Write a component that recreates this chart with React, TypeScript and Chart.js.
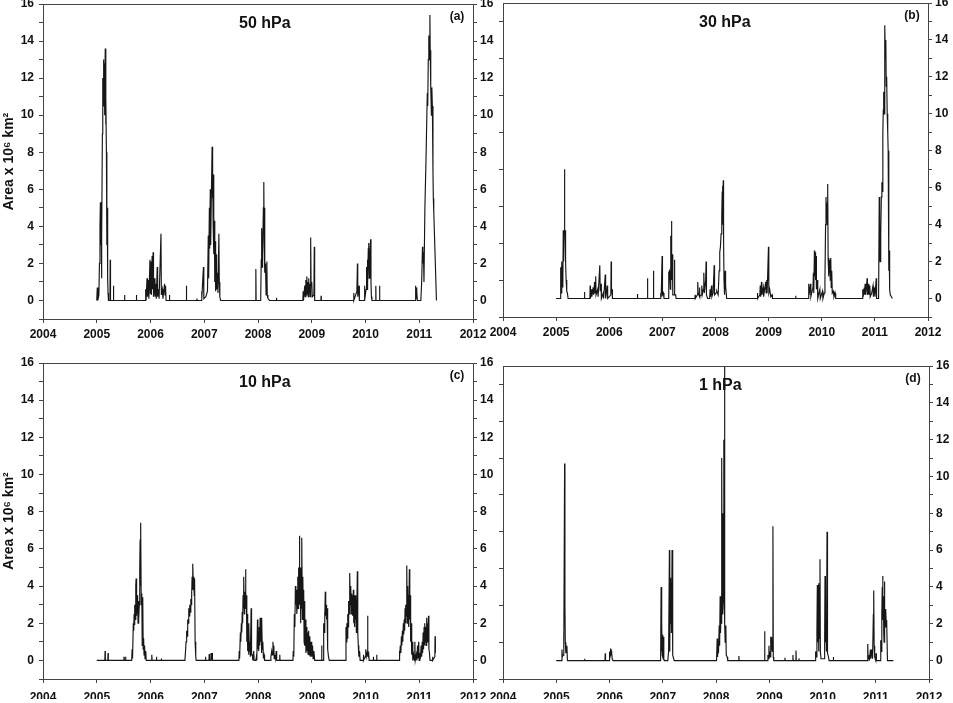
import React, { useEffect, useRef } from 'react';
import { Chart, registerables } from 'chart.js';

Chart.register(...registerables);

const W = 953;
const H = 703;
const FONT = '"Liberation Sans", Arial, Helvetica, sans-serif';

// ---- tick labels / texts ----
const yearLabels = [2004, 2005, 2006, 2007, 2008, 2009, 2010, 2011, 2012];
const areaLabels = [0, 2, 4, 6, 8, 10, 12, 14, 16];
const panelTitles = ['50 hPa', '30 hPa', '10 hPa', '1 hPa'];
const panelLetters = ['(a)', '(b)', '(c)', '(d)'];
const yAxisTitle = 'Area x 10\u2076 km\u00B2';

// ---- series: [decimal year, area (10^6 km^2)] ----
const area50hPa: [number, number][] = [
  [2005.000, 0], [2005.010, 0.7], [2005.020, 0], [2005.040, 0.3], [2005.050, 2.0], [2005.060, 4.0], [2005.068, 5.3], [2005.075, 3.0], [2005.080, 5.0], [2005.088, 1.2], [2005.095, 3.5], [2005.105, 9.0], [2005.112, 12.0], [2005.118, 10.5], [2005.125, 13.0], [2005.132, 11.0], [2005.140, 12.8], [2005.148, 10.0], [2005.158, 13.6], [2005.165, 9.5], [2005.172, 11.0], [2005.180, 8.0], [2005.188, 3.0], [2005.195, 5.0], [2005.203, 1.2], [2005.210, 0.4], [2005.218, 0],
  [2005.245, 0], [2005.250, 2.2], [2005.256, 0], [2005.305, 0], [2005.310, 0.8], [2005.316, 0], [2005.515, 0], [2005.518, 0.3], [2005.522, 0], [2005.735, 0], [2005.738, 0.3], [2005.742, 0],
  [2005.905, 0], [2005.910, 0.6], [2005.918, 0], [2005.935, 1.2], [2005.945, 0.2], [2005.962, 1.1], [2005.970, 0.1], [2005.990, 2.2], [2005.998, 0.4], [2006.008, 2.1], [2006.016, 0.3], [2006.030, 2.4], [2006.038, 0.6], [2006.048, 2.6], [2006.056, 0.2], [2006.075, 1.2], [2006.083, 0.2], [2006.100, 0.9], [2006.108, 0.1], [2006.125, 1.8], [2006.133, 0.2], [2006.150, 0.6], [2006.160, 0.1], [2006.195, 3.6], [2006.202, 0.3], [2006.220, 0.6], [2006.232, 0.1], [2006.262, 0.9], [2006.270, 0.3], [2006.280, 0.8], [2006.290, 0],
  [2006.350, 0], [2006.353, 0.3], [2006.357, 0], [2006.665, 0], [2006.668, 0.8], [2006.672, 0], [2006.860, 0], [2006.863, 0.1], [2006.866, 0],
  [2006.940, 0], [2006.950, 0.5], [2006.958, 0.1], [2006.985, 1.8], [2006.992, 0.1], [2007.030, 0.2], [2007.060, 0.5], [2007.075, 3.5], [2007.082, 1.2], [2007.095, 5.0], [2007.102, 2.8], [2007.112, 6.0], [2007.120, 3.0], [2007.130, 5.2], [2007.146, 8.3], [2007.152, 5.5], [2007.160, 7.0], [2007.166, 4.0], [2007.174, 6.8], [2007.180, 2.5], [2007.188, 4.3], [2007.196, 1.0], [2007.204, 3.2], [2007.212, 0.5], [2007.222, 2.5], [2007.230, 0.6], [2007.245, 1.5], [2007.255, 0.4], [2007.272, 3.6], [2007.280, 1.0], [2007.290, 0.2], [2007.305, 0],
  [2007.955, 0], [2007.960, 1.7], [2007.965, 0], [2008.050, 0], [2008.060, 2.2], [2008.068, 3.9], [2008.075, 1.8], [2008.085, 2.5], [2008.100, 5.0], [2008.108, 6.4], [2008.115, 3.0], [2008.122, 5.0], [2008.130, 1.5], [2008.140, 2.0], [2008.150, 0.3], [2008.165, 2.1], [2008.172, 0.3], [2008.185, 0.1], [2008.215, 0], [2008.340, 0], [2008.344, 0.15], [2008.348, 0],
  [2008.835, 0], [2008.840, 0.5], [2008.846, 0], [2008.870, 0.8], [2008.878, 0.2], [2008.890, 1.1], [2008.898, 0.3], [2008.908, 1.3], [2008.916, 0.4], [2008.926, 1.0], [2008.934, 0.2], [2008.944, 1.2], [2008.952, 0.4], [2008.962, 0.9], [2008.970, 0.2], [2008.980, 3.4], [2008.988, 0.8], [2009.000, 1.0], [2009.010, 0.2], [2009.040, 0.3], [2009.047, 2.9], [2009.054, 0], [2009.170, 0], [2009.174, 0.25], [2009.178, 0],
  [2009.775, 0], [2009.780, 0.4], [2009.785, 0], [2009.840, 0.5], [2009.850, 2.0], [2009.856, 0.2], [2009.880, 0.8], [2009.886, 0], [2009.978, 0], [2009.982, 0.8], [2009.986, 0], [2010.010, 0.6], [2010.020, 1.8], [2010.028, 0.6], [2010.035, 2.2], [2010.043, 0.9], [2010.052, 2.8], [2010.060, 3.1], [2010.068, 1.2], [2010.080, 2.5], [2010.095, 3.3], [2010.102, 1.0], [2010.110, 0.2], [2010.120, 0], [2010.188, 0], [2010.192, 0.8], [2010.196, 0], [2010.258, 0], [2010.262, 0.8], [2010.266, 0],
  [2010.925, 0], [2010.930, 0.8], [2010.936, 0.2], [2010.942, 0.7], [2010.950, 0.1], [2010.958, 0.5], [2010.965, 0], [2011.030, 0], [2011.045, 1.0], [2011.060, 2.9], [2011.068, 2.0], [2011.078, 2.6], [2011.088, 1.0], [2011.105, 5.0], [2011.125, 7.5], [2011.138, 9.5], [2011.150, 11.2], [2011.158, 10.5], [2011.168, 13.0], [2011.178, 14.3], [2011.186, 13.0], [2011.198, 15.4], [2011.204, 13.5], [2011.210, 12.0], [2011.218, 11.5], [2011.226, 10.0], [2011.234, 11.5], [2011.244, 10.5], [2011.255, 7.0], [2011.262, 5.5], [2011.270, 4.8], [2011.320, 0],
];

const area30hPa: [number, number][] = [
  [2005.000, 0], [2005.080, 0], [2005.086, 1.7], [2005.094, 0.3], [2005.102, 2.0], [2005.110, 0.5], [2005.118, 1.8], [2005.126, 0.6], [2005.134, 3.7], [2005.142, 2.0], [2005.150, 3.7], [2005.157, 7.0], [2005.163, 3.5], [2005.170, 3.7], [2005.178, 2.0], [2005.188, 1.0], [2005.200, 0.4], [2005.212, 0.3], [2005.225, 0],
  [2005.528, 0], [2005.533, 0.35], [2005.540, 0],
  [2005.635, 0], [2005.640, 0.7], [2005.646, 0], [2005.665, 0.5], [2005.672, 0.1], [2005.698, 0.6], [2005.705, 0.2], [2005.725, 0.9], [2005.732, 0.3], [2005.745, 1.2], [2005.752, 0.2], [2005.782, 0.5], [2005.790, 0.1], [2005.822, 1.8], [2005.830, 0.4], [2005.845, 0.8], [2005.852, 0], [2005.888, 0.3], [2005.894, 0], [2005.925, 1.3], [2005.932, 0], [2005.962, 0.7], [2005.970, 0], [2006.030, 0.2], [2006.035, 2.0], [2006.042, 0.3], [2006.052, 0.5], [2006.060, 0],
  [2006.527, 0], [2006.531, 0.25], [2006.535, 0],
  [2006.712, 0], [2006.719, 1.1], [2006.726, 0], [2006.826, 0], [2006.832, 1.5], [2006.838, 0], [2006.965, 0], [2006.970, 0.3], [2006.978, 0.1], [2006.995, 2.3], [2007.002, 0.2], [2007.020, 0.3], [2007.030, 0],
  [2007.110, 0], [2007.120, 1.4], [2007.135, 1.5], [2007.150, 0.5], [2007.158, 3.4], [2007.165, 2.0], [2007.171, 4.2], [2007.178, 1.0], [2007.188, 2.4], [2007.196, 0.2], [2007.220, 0.2], [2007.227, 2.1], [2007.234, 0.2], [2007.250, 0.2], [2007.258, 0],
  [2007.612, 0], [2007.616, 0.2], [2007.620, 0], [2007.660, 0.2], [2007.666, 0.9], [2007.674, 0.3], [2007.690, 0.2], [2007.698, 0.6], [2007.705, 0.1], [2007.735, 0.2], [2007.742, 0.7], [2007.750, 0.2], [2007.772, 0.5], [2007.780, 1.4], [2007.790, 0.3], [2007.815, 1.0], [2007.823, 2.0], [2007.830, 0.2], [2007.850, 0], [2007.890, 0], [2007.898, 0.5], [2007.906, 0.1], [2007.925, 0.7], [2007.932, 0.1], [2007.955, 0.3], [2007.975, 1.8], [2007.982, 0.2], [2008.010, 0.3], [2008.024, 0.4],
  [2008.050, 0.2], [2008.068, 1.5], [2008.080, 2.5], [2008.093, 2.8], [2008.105, 3.5], [2008.118, 4.5], [2008.126, 5.8], [2008.132, 6.1], [2008.138, 4.0], [2008.146, 6.4], [2008.152, 3.2], [2008.160, 1.0], [2008.170, 0.2], [2008.182, 1.5], [2008.190, 0.7], [2008.210, 0],
  [2008.785, 0], [2008.789, 0.3], [2008.795, 0], [2008.835, 0.2], [2008.842, 0.7], [2008.850, 0.1], [2008.866, 0.9], [2008.873, 0.2], [2008.900, 0.6], [2008.906, 0.1], [2008.945, 0.9], [2008.952, 0.3], [2008.965, 1.0], [2008.972, 0.3], [2008.997, 2.8], [2009.004, 0.3], [2009.020, 0.5], [2009.040, 0.1], [2009.065, 0.2], [2009.072, 0],
  [2009.505, 0], [2009.510, 0.15], [2009.515, 0],
  [2009.750, 0], [2009.755, 0.8], [2009.762, 0.2], [2009.788, 0.8], [2009.795, 0.1], [2009.835, 0.6], [2009.843, 1.4], [2009.850, 0.3], [2009.862, 2.6], [2009.868, 1.2], [2009.876, 2.5], [2009.884, 1.0], [2009.893, 2.3], [2009.900, 0.5], [2009.918, 1.0], [2009.925, 0], [2009.965, 0.5], [2009.972, 0], [2010.015, 0.4], [2010.022, 0], [2010.048, 0.3], [2010.060, 1.0], [2010.072, 4.0], [2010.080, 5.5], [2010.088, 4.3], [2010.096, 5.2], [2010.104, 4.0], [2010.112, 6.2], [2010.120, 2.2], [2010.128, 1.2], [2010.136, 2.2], [2010.144, 1.4], [2010.152, 2.1], [2010.160, 1.0], [2010.170, 2.2], [2010.178, 0.6], [2010.188, 1.5], [2010.198, 0.3], [2010.215, 0.4], [2010.230, 0.1], [2010.250, 0.3], [2010.262, 0],
  [2010.765, 0], [2010.772, 0.5], [2010.780, 0.1], [2010.800, 0.6], [2010.808, 0.2], [2010.816, 0.8], [2010.824, 0.2], [2010.845, 0.7], [2010.853, 1.1], [2010.860, 0.2], [2010.878, 0.8], [2010.885, 0.2], [2010.905, 0.7], [2010.912, 0.1], [2010.940, 0.3], [2010.965, 0.7], [2010.972, 0.1], [2010.995, 0.6], [2011.002, 0.1], [2011.025, 1.1], [2011.032, 0], [2011.070, 0], [2011.082, 5.5], [2011.090, 3.0], [2011.098, 2.0], [2011.110, 3.5], [2011.122, 5.5], [2011.132, 6.3], [2011.140, 5.8], [2011.150, 9.0], [2011.158, 10.2], [2011.166, 11.2], [2011.174, 10.0], [2011.182, 13.0], [2011.190, 14.8], [2011.198, 13.0], [2011.206, 14.0], [2011.214, 11.5], [2011.222, 12.0], [2011.232, 10.0], [2011.242, 9.0], [2011.250, 8.0], [2011.262, 1.5], [2011.270, 2.6], [2011.278, 0.5], [2011.290, 0.2], [2011.330, 0],
];

const area10hPa: [number, number][] = [
  [2005.000, 0], [2005.150, 0], [2005.155, 0.5], [2005.160, 0], [2005.205, 0], [2005.210, 0.4], [2005.215, 0], [2005.505, 0], [2005.508, 0.2], [2005.512, 0], [2005.535, 0], [2005.538, 0.2], [2005.542, 0],
  [2005.650, 0], [2005.658, 0.6], [2005.666, 0.1], [2005.680, 2.0], [2005.688, 1.6], [2005.695, 2.5], [2005.702, 1.9], [2005.710, 3.0], [2005.718, 2.2], [2005.726, 4.0], [2005.732, 4.4], [2005.738, 2.4], [2005.745, 3.2], [2005.752, 2.6], [2005.760, 3.5], [2005.768, 2.0], [2005.776, 3.2], [2005.784, 2.2], [2005.792, 3.0], [2005.800, 5.0], [2005.807, 6.5], [2005.814, 4.0], [2005.820, 7.4], [2005.828, 3.0], [2005.838, 3.6], [2005.846, 0.8], [2005.856, 3.4], [2005.864, 0.6], [2005.872, 1.2], [2005.880, 0.3], [2005.890, 0.8], [2005.898, 0.1], [2005.912, 0.5], [2005.920, 0], [2006.020, 0], [2006.024, 0.3], [2006.030, 0], [2006.108, 0], [2006.112, 0.2], [2006.116, 0], [2006.198, 0], [2006.202, 0.1], [2006.206, 0],
  [2006.640, 0], [2006.652, 0.5], [2006.662, 1.0], [2006.672, 1.6], [2006.682, 1.3], [2006.692, 2.2], [2006.702, 2.0], [2006.712, 2.8], [2006.720, 2.4], [2006.730, 3.0], [2006.740, 2.6], [2006.750, 3.3], [2006.758, 3.0], [2006.766, 3.6], [2006.774, 4.5], [2006.782, 3.8], [2006.790, 5.2], [2006.798, 3.8], [2006.806, 4.5], [2006.814, 3.5], [2006.820, 4.4], [2006.830, 1.0], [2006.842, 0.2], [2006.850, 0],
  [2007.020, 0], [2007.024, 0.2], [2007.028, 0], [2007.088, 0], [2007.092, 0.35], [2007.096, 0], [2007.122, 0], [2007.126, 0.4], [2007.130, 0], [2007.144, 0], [2007.148, 0.4], [2007.152, 0],
  [2007.645, 0], [2007.650, 0.5], [2007.658, 0.1], [2007.672, 1.5], [2007.680, 1.0], [2007.690, 2.0], [2007.698, 1.5], [2007.706, 2.6], [2007.714, 2.0], [2007.722, 3.5], [2007.730, 2.8], [2007.738, 4.5], [2007.745, 2.5], [2007.752, 3.7], [2007.760, 2.8], [2007.768, 4.9], [2007.776, 3.0], [2007.784, 3.5], [2007.792, 1.0], [2007.800, 2.5], [2007.808, 0.5], [2007.816, 1.5], [2007.824, 0.3], [2007.832, 2.0], [2007.840, 0.5], [2007.850, 1.0], [2007.858, 0.2], [2007.872, 2.8], [2007.880, 0.3], [2007.895, 0.3], [2007.905, 0], [2007.920, 0.5], [2007.928, 0], [2007.960, 0], [2007.970, 0.2], [2007.978, 0], [2007.990, 2.2], [2007.998, 0.6], [2008.006, 1.5], [2008.014, 0.5], [2008.022, 1.8], [2008.030, 0.8], [2008.040, 2.3], [2008.048, 1.0], [2008.056, 1.6], [2008.064, 0.4], [2008.072, 2.3], [2008.080, 0.6], [2008.090, 1.0], [2008.100, 0.2], [2008.112, 0.3], [2008.122, 0],
  [2008.230, 0], [2008.240, 0.2], [2008.255, 0.5], [2008.265, 0.3], [2008.278, 1.0], [2008.286, 0.4], [2008.294, 0.8], [2008.302, 0.1], [2008.315, 0.3], [2008.325, 0.1], [2008.340, 0.5], [2008.348, 0], [2008.400, 0], [2008.405, 0.3], [2008.410, 0],
  [2008.650, 0], [2008.656, 0.5], [2008.666, 0.2], [2008.676, 2.5], [2008.686, 1.8], [2008.696, 4.0], [2008.705, 3.0], [2008.714, 3.8], [2008.722, 2.5], [2008.730, 3.0], [2008.740, 4.5], [2008.748, 2.8], [2008.756, 5.0], [2008.764, 3.5], [2008.770, 6.7], [2008.778, 3.0], [2008.786, 5.0], [2008.794, 2.0], [2008.802, 4.5], [2008.810, 2.8], [2008.818, 6.6], [2008.826, 2.2], [2008.834, 4.5], [2008.842, 2.5], [2008.850, 3.8], [2008.858, 1.0], [2008.866, 3.2], [2008.874, 0.8], [2008.884, 2.2], [2008.892, 0.4], [2008.902, 1.8], [2008.910, 0.5], [2008.920, 1.5], [2008.930, 0.3], [2008.942, 1.6], [2008.952, 0.3], [2008.964, 1.3], [2008.975, 0.2], [2008.990, 1.0], [2009.000, 0.2], [2009.015, 0.8], [2009.025, 0.1], [2009.040, 0.5], [2009.055, 0],
  [2009.180, 0], [2009.184, 0.8], [2009.190, 0], [2009.215, 0], [2009.222, 2.0], [2009.230, 1.5], [2009.238, 2.6], [2009.246, 2.2], [2009.252, 3.7], [2009.260, 2.4], [2009.268, 3.0], [2009.276, 2.2], [2009.284, 2.8], [2009.292, 1.8], [2009.300, 0.6], [2009.312, 0.2], [2009.325, 0],
  [2009.630, 0], [2009.637, 1.8], [2009.645, 1.0], [2009.653, 2.0], [2009.661, 1.2], [2009.670, 2.5], [2009.678, 1.8], [2009.686, 3.2], [2009.694, 2.5], [2009.702, 4.2], [2009.710, 4.7], [2009.718, 3.0], [2009.726, 4.0], [2009.734, 2.5], [2009.742, 3.6], [2009.750, 2.8], [2009.758, 3.5], [2009.766, 2.4], [2009.774, 3.8], [2009.782, 2.0], [2009.790, 3.5], [2009.798, 1.8], [2009.806, 3.0], [2009.814, 2.2], [2009.822, 3.5], [2009.830, 1.5], [2009.838, 2.5], [2009.848, 4.8], [2009.856, 1.5], [2009.866, 0.8], [2009.876, 0.2], [2009.890, 0.5], [2009.900, 0], [2009.955, 0], [2009.960, 0.3], [2009.966, 0], [2009.995, 0.2], [2010.005, 0.6], [2010.015, 0.2], [2010.030, 0.4], [2010.038, 2.4], [2010.046, 0.3], [2010.058, 0.4], [2010.068, 0], [2010.142, 0], [2010.146, 0.2], [2010.150, 0], [2010.204, 0], [2010.208, 0.3], [2010.212, 0],
  [2010.625, 0], [2010.630, 0.5], [2010.638, 0.2], [2010.648, 0.8], [2010.658, 0.4], [2010.668, 1.3], [2010.676, 0.8], [2010.686, 1.6], [2010.694, 1.0], [2010.704, 2.0], [2010.712, 1.4], [2010.720, 2.2], [2010.728, 1.6], [2010.736, 2.8], [2010.744, 2.0], [2010.752, 3.0], [2010.760, 2.4], [2010.768, 5.1], [2010.776, 2.0], [2010.784, 4.0], [2010.792, 2.6], [2010.800, 3.5], [2010.808, 1.8], [2010.816, 4.9], [2010.824, 2.2], [2010.832, 3.5], [2010.840, 1.0], [2010.850, 2.0], [2010.860, 0.3], [2010.870, 1.0], [2010.880, 0], [2010.895, 0.3], [2010.910, 0], [2010.918, 1.0], [2010.926, 0], [2010.945, 0.3], [2010.955, 0], [2010.968, 0.8], [2010.976, 0.1], [2010.990, 1.0], [2010.998, 0], [2011.012, 0.4], [2011.022, 0.1], [2011.035, 0.8], [2011.045, 0.2], [2011.055, 1.0], [2011.063, 0.4], [2011.072, 1.5], [2011.080, 0.6], [2011.090, 1.8], [2011.098, 0.8], [2011.106, 2.0], [2011.114, 1.0], [2011.122, 1.8], [2011.130, 0.8], [2011.138, 2.3], [2011.146, 1.0], [2011.154, 2.0], [2011.162, 1.2], [2011.172, 2.4], [2011.180, 0.6], [2011.190, 0.4], [2011.200, 0], [2011.240, 0], [2011.245, 0.2], [2011.255, 0], [2011.290, 0.2], [2011.294, 1.3], [2011.300, 0.4],
];

const area1hPa: [number, number][] = [
  [2005.000, 0], [2005.100, 0], [2005.107, 0.6], [2005.114, 0.2], [2005.130, 0.3], [2005.138, 1.5], [2005.145, 0.5], [2005.157, 10.7], [2005.163, 3.0], [2005.170, 1.0], [2005.180, 0.4], [2005.200, 0.8], [2005.210, 0],
  [2005.530, 0], [2005.533, 0.1], [2005.537, 0],
  [2005.915, 0], [2005.920, 0.4], [2005.925, 0], [2005.995, 0], [2006.002, 0.5], [2006.010, 0.3], [2006.016, 0.65], [2006.024, 0.3], [2006.040, 0.5], [2006.050, 0.1], [2006.066, 0],
  [2006.960, 0], [2006.969, 4.0], [2006.976, 0.5], [2006.984, 2.0], [2006.990, 0.3], [2006.996, 1.4], [2007.004, 0.2], [2007.012, 1.3], [2007.020, 0.1], [2007.030, 0], [2007.095, 0], [2007.110, 0.5], [2007.125, 6.0], [2007.132, 0.5], [2007.140, 4.5], [2007.148, 2.0], [2007.156, 4.2], [2007.164, 1.5], [2007.175, 6.0], [2007.182, 2.0], [2007.192, 0.3], [2007.215, 0],
  [2008.010, 0], [2008.022, 1.2], [2008.030, 0.2], [2008.040, 0.8], [2008.047, 0.4], [2008.060, 1.9], [2008.068, 0.8], [2008.078, 3.5], [2008.085, 1.5], [2008.097, 3.5], [2008.104, 2.0], [2008.110, 11.0], [2008.116, 3.0], [2008.122, 8.0], [2008.130, 2.5], [2008.138, 3.5], [2008.147, 12.0], [2008.152, 4.0], [2008.160, 17.5], [2008.166, 2.0], [2008.172, 1.0], [2008.185, 1.9], [2008.192, 0.3], [2008.210, 0.2], [2008.220, 0],
  [2008.425, 0], [2008.430, 0.25], [2008.435, 0],
  [2008.905, 0], [2008.912, 1.6], [2008.920, 0], [2008.960, 0], [2008.975, 0.3], [2008.985, 0.1], [2008.994, 0.8], [2009.002, 0.2], [2009.013, 0.5], [2009.020, 0.2], [2009.028, 1.3], [2009.036, 0.6], [2009.044, 1.3], [2009.056, 0.5], [2009.069, 7.3], [2009.076, 0.2], [2009.085, 0],
  [2009.290, 0], [2009.295, 0.15], [2009.300, 0], [2009.440, 0], [2009.445, 0.3], [2009.450, 0], [2009.496, 0], [2009.502, 0.55], [2009.508, 0], [2009.555, 0], [2009.558, 0.12], [2009.562, 0],
  [2009.860, 0], [2009.871, 0.5], [2009.880, 0.2], [2009.895, 1.5], [2009.903, 4.1], [2009.910, 1.0], [2009.920, 2.5], [2009.927, 0.5], [2009.934, 4.2], [2009.942, 1.2], [2009.953, 5.5], [2009.960, 0.5], [2009.972, 0.1], [2010.030, 0.1], [2010.040, 1.0], [2010.047, 4.6], [2010.055, 1.0], [2010.066, 2.0], [2010.074, 0.5], [2010.085, 7.0], [2010.090, 5.5], [2010.098, 0.4], [2010.112, 0.2], [2010.125, 0], [2010.200, 0], [2010.204, 0.2], [2010.208, 0],
  [2010.845, 0], [2010.850, 0.9], [2010.856, 0.1], [2010.870, 0.3], [2010.880, 0], [2010.900, 0.6], [2010.908, 0.1], [2010.932, 0.6], [2010.940, 0.1], [2010.955, 2.5], [2010.962, 3.8], [2010.970, 0.8], [2010.980, 0.2], [2011.000, 0], [2011.006, 0.4], [2011.012, 0], [2011.085, 0], [2011.094, 1.1], [2011.104, 0.5], [2011.114, 2.5], [2011.122, 4.0], [2011.130, 4.6], [2011.136, 2.2], [2011.144, 3.5], [2011.150, 1.5], [2011.157, 1.0], [2011.163, 4.3], [2011.170, 2.0], [2011.176, 2.8], [2011.183, 1.8], [2011.190, 2.8], [2011.197, 2.0], [2011.205, 2.2], [2011.220, 0], [2011.332, 0],
];

const seriesList = [area50hPa, area30hPa, area10hPa, area1hPa];

// ---- layout of the four panels (plot-area pixel boxes) ----
const panelBoxes = [
  { l: 43, r: 473, t: 4, b: 319, leftLabels: true, leftW: 43, rightW: 30, xPad: 4 },
  { l: 503, r: 928, t: 3, b: 317, leftLabels: false, leftW: 30, rightW: 20, xPad: 4 },
  { l: 43, r: 473, t: 363, b: 679, leftLabels: true, leftW: 43, rightW: 30, xPad: 7 },
  { l: 503, r: 929, t: 366, b: 679, leftLabels: false, leftW: 30, rightW: 20, xPad: 7 },
];

const X_H = 20;
const AXIS_COLOR = '#444';
const TEXT_COLOR = '#111';

const panelText = {
  id: 'panelText',
  afterDraw(chart: any, _args: any, opts: any) {
    const { ctx, chartArea: a } = chart;
    ctx.save();
    ctx.strokeStyle = AXIS_COLOR;
    ctx.lineWidth = 1;
    const ty = Math.round(a.top) + 0.5;
    ctx.beginPath();
    ctx.moveTo(a.left, ty);
    ctx.lineTo(a.right, ty);
    ctx.stroke();
    ctx.fillStyle = TEXT_COLOR;
    ctx.font = `bold 16px ${FONT}`;
    ctx.textAlign = 'left';
    ctx.textBaseline = 'middle';
    ctx.fillText(opts.title, a.left + 196, a.top + 20);
    ctx.font = `bold 12px ${FONT}`;
    ctx.textAlign = 'center';
    ctx.fillText(opts.letter, a.right - 16, a.top + 12.5);
    ctx.restore();
  },
};

function buildChart(canvas: HTMLCanvasElement, i: number) {
  const p = panelBoxes[i];
  const tickFont = { family: FONT, size: 12, weight: 'bold' as const };
  const yLabel = (v: any) => (areaLabels.includes(v) ? String(v) : '');
  const oddTickColor = (c: any) =>
    c.tick && Math.abs(c.tick.value % 2) === 1 ? AXIS_COLOR : 'rgba(0,0,0,0)';
  return new Chart(canvas, {
    type: 'line',
    data: {
      datasets: [
        {
          data: seriesList[i].map(([x, y]) => ({ x, y })),
          borderColor: '#161616',
          borderWidth: 1.15,
          pointRadius: 0,
          tension: 0,
          fill: false,
        },
      ],
    },
    options: {
      responsive: false,
      animation: false,
      events: [],
      layout: {
        padding: {
          left: p.l - p.leftW,
          top: p.t,
          right: W - p.r - p.rightW,
          bottom: H - p.b - X_H,
        },
      },
      plugins: {
        legend: { display: false },
        tooltip: { enabled: false },
        title: { display: false },
        panelText: { title: panelTitles[i], letter: panelLetters[i] },
      } as any,
      scales: {
        x: {
          type: 'linear',
          position: 'bottom',
          min: 2004,
          max: 2012,
          ticks: {
            stepSize: 1,
            autoSkip: false,
            maxRotation: 0,
            padding: p.xPad,
            color: TEXT_COLOR,
            font: tickFont,
            callback: (v: any) => (yearLabels.includes(v) ? String(v) : ''),
          },
          grid: { drawOnChartArea: false, drawTicks: true, tickLength: 4, color: AXIS_COLOR },
          border: { display: true, color: AXIS_COLOR, width: 1 },
          afterFit: (s: any) => {
            s.height = X_H;
            s.paddingLeft = 0;
            s.paddingRight = 0;
          },
        },
        y: {
          type: 'linear',
          position: 'left',
          min: -1,
          max: 16,
          ticks: {
            stepSize: 1,
            autoSkip: false,
            padding: 5,
            color: TEXT_COLOR,
            font: tickFont,
            callback: p.leftLabels ? yLabel : () => '',
          },
          grid: {
            drawOnChartArea: false,
            drawTicks: true,
            tickLength: 4,
            color: p.leftLabels ? AXIS_COLOR : oddTickColor,
          },
          border: { display: true, color: AXIS_COLOR, width: 1 },
          title: {
            display: p.leftLabels,
            text: yAxisTitle,
            color: TEXT_COLOR,
            font: { family: FONT, size: 14, weight: 'bold' },
            padding: { top: 1, bottom: 0 },
          },
          afterFit: (s: any) => {
            s.width = p.leftW;
            s.paddingTop = 0;
            s.paddingBottom = 0;
          },
        },
        y2: {
          type: 'linear',
          position: 'right',
          min: -1,
          max: 16,
          ticks: {
            stepSize: 1,
            autoSkip: false,
            padding: 3,
            color: TEXT_COLOR,
            font: tickFont,
            callback: yLabel,
          },
          grid: { drawOnChartArea: false, drawTicks: true, tickLength: 4, color: AXIS_COLOR },
          border: { display: true, color: AXIS_COLOR, width: 1 },
          afterFit: (s: any) => {
            s.width = p.rightW;
            s.paddingTop = 0;
            s.paddingBottom = 0;
          },
        },
      },
    } as any,
    plugins: [panelText],
  });
}

export default function App() {
  const r0 = useRef<HTMLCanvasElement>(null);
  const r1 = useRef<HTMLCanvasElement>(null);
  const r2 = useRef<HTMLCanvasElement>(null);
  const r3 = useRef<HTMLCanvasElement>(null);
  const refs = [r0, r1, r2, r3];

  useEffect(() => {
    const charts = refs.map((r, i) => buildChart(r.current as HTMLCanvasElement, i));
    return () => charts.forEach((c) => c.destroy());
  }, []);

  return (
    <div
      style={{
        position: 'absolute',
        left: 0,
        top: 0,
        width: W,
        height: H,
        background: '#fff',
        overflow: 'hidden',
      }}
    >
      {refs.map((r, i) => (
        <canvas
          key={i}
          ref={r}
          width={W}
          height={H}
          style={{ position: 'absolute', left: 0, top: 0, width: W, height: H }}
        />
      ))}
    </div>
  );
}
